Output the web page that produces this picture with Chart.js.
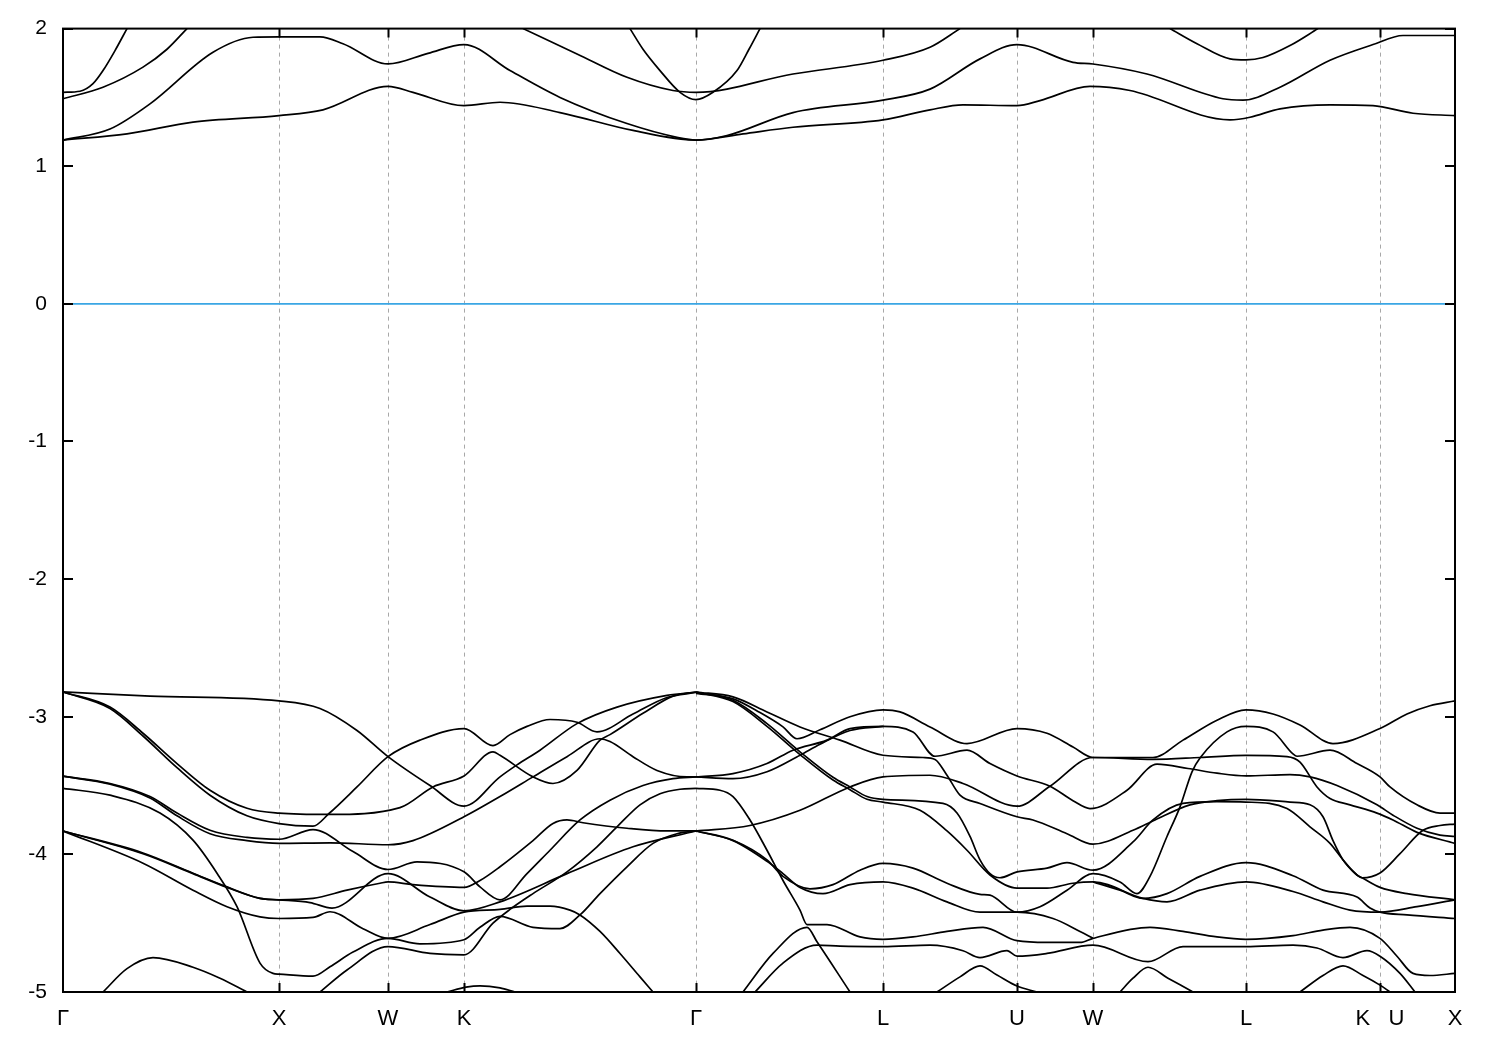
<!DOCTYPE html>
<html>
<head>
<meta charset="utf-8">
<script src="https://cdn.jsdelivr.net/npm/chart.js@4.4.0/dist/chart.umd.min.js"></script>
<style>
  html, body { margin: 0; padding: 0; background: #fff; }
  canvas { display: block; }
</style>
</head>
<body>
<canvas id="bands" width="1500" height="1050"></canvas>
<script>
// k-path positions of the high-symmetry points and their labels
const kTicks = [0, 2.16, 3.25, 4.01, 6.33, 8.20, 9.54, 10.30, 11.83, 13.17, 13.92];
const kLabels = ['Γ', 'X', 'W', 'K', 'Γ', 'L', 'U', 'W', 'L', 'K   U', 'X'];
const energyTicks = [-5, -4, -3, -2, -1, 0, 1, 2];

// conduction bands [k, E]
const cond1 = [[0,1.19],[0.64,1.235],[1.30,1.32],[2.16,1.368],[2.60,1.41],[3.25,1.58],[3.50,1.537],[4.01,1.44],[4.37,1.465],[4.97,1.39],[5.70,1.26],[6.33,1.19],[6.80,1.235],[7.30,1.283],[8.20,1.337],[8.67,1.41],[9.00,1.446],[9.54,1.44],[9.77,1.477],[10.27,1.58],[10.67,1.55],[11.67,1.337],[11.87,1.356],[12.17,1.417],[12.67,1.446],[13.10,1.44],[13.50,1.385],[13.92,1.368]];
const cond2 = [[0,1.19],[0.47,1.27],[0.87,1.453],[1.50,1.828],[1.90,1.937],[2.16,1.94],[2.57,1.94],[2.80,1.89],[3.25,1.743],[3.65,1.82],[4.01,1.884],[4.47,1.695],[4.97,1.50],[5.64,1.31],[6.14,1.21],[6.33,1.19],[6.64,1.223],[7.30,1.39],[8.20,1.48],[8.67,1.56],[9.17,1.78],[9.54,1.884],[10.10,1.755],[10.30,1.743],[10.84,1.67],[11.60,1.49],[11.80,1.48],[12.17,1.574],[12.67,1.77],[13.10,1.884],[13.40,1.95],[13.92,1.95]];
const cond3 = [[0,1.537],[0.17,1.545],[0.30,1.60],[0.40,1.695],[0.52,1.84],[0.64,2.0]];
const cond4 = [[0,1.49],[0.40,1.574],[0.80,1.72],[1.04,1.85],[1.24,2.0]];
const cond5 = [[4.60,2.0],[5.14,1.816],[5.64,1.646],[6.10,1.55],[6.33,1.537],[7.30,1.67],[8.20,1.77],[8.67,1.865],[8.97,2.0]];
const cond6 = [[5.67,2.0],[5.80,1.85],[5.97,1.695],[6.17,1.537],[6.33,1.484],[6.50,1.537],[6.74,1.695],[6.86,1.85],[6.97,2.0]];
const cond7 = [[11.07,2.0],[11.34,1.89],[11.67,1.78],[11.83,1.773],[12.00,1.79],[12.27,1.877],[12.55,2.0]];

// valence bands [k, E]
const val1 = [[0,-2.82],[0.87,-2.85],[2.16,-2.885],[2.57,-2.94],[2.94,-3.10],[3.25,-3.29],[3.67,-3.50],[4.01,-3.65],[4.37,-3.437],[4.54,-3.35],[4.77,-3.243],[5.14,-3.05],[5.54,-2.93],[6.04,-2.845],[6.33,-2.82]];
const val2 = [[0,-2.82],[0.47,-2.93],[0.80,-3.12],[1.14,-3.34],[1.47,-3.534],[1.84,-3.665],[2.16,-3.70],[2.66,-3.71],[3.37,-3.66],[3.70,-3.51],[4.01,-3.43],[4.30,-3.255],[4.37,-3.28],[4.70,-3.437],[4.90,-3.485],[5.14,-3.39],[5.37,-3.17],[5.47,-3.13],[5.80,-2.975],[6.10,-2.85],[6.33,-2.82]];
const val3 = [[0,-2.82],[0.47,-2.94],[0.80,-3.14],[1.14,-3.37],[1.47,-3.57],[1.84,-3.72],[2.16,-3.776],[2.50,-3.795],[2.66,-3.703],[2.94,-3.51],[3.25,-3.29],[3.57,-3.17],[4.01,-3.086],[4.30,-3.21],[4.47,-3.13],[4.64,-3.07],[4.87,-3.02],[5.14,-3.04],[5.34,-3.11],[5.70,-2.98],[6.04,-2.86],[6.33,-2.824]];
const val4 = [[0,-3.432],[0.47,-3.485],[0.87,-3.58],[1.14,-3.70],[1.47,-3.825],[1.84,-3.877],[2.16,-3.89],[2.50,-3.82],[2.90,-3.98],[3.25,-4.11],[3.54,-4.055],[4.01,-4.127],[4.17,-4.236],[4.37,-4.33],[4.64,-4.14],[4.87,-3.97],[5.17,-3.75],[5.47,-3.606],[5.80,-3.50],[6.10,-3.45],[6.33,-3.437]];
const val5 = [[0,-3.432],[0.47,-3.49],[0.87,-3.59],[1.14,-3.72],[1.47,-3.85],[1.84,-3.90],[2.16,-3.92],[2.67,-3.916],[3.25,-3.93],[3.50,-3.90],[4.01,-3.727],[4.37,-3.58],[4.70,-3.437],[5.04,-3.29],[5.37,-3.16],[5.47,-3.18],[5.70,-3.29],[5.94,-3.39],[6.24,-3.437],[6.33,-3.437]];
const val6 = [[0,-3.52],[0.47,-3.57],[0.97,-3.70],[1.30,-3.897],[1.54,-4.137],[1.74,-4.38],[1.97,-4.79],[2.10,-4.865],[2.16,-4.87],[2.50,-4.885],[2.67,-4.817],[2.90,-4.71],[3.25,-4.61],[3.57,-4.65],[4.01,-4.62],[4.17,-4.53],[4.37,-4.45],[4.70,-4.53],[4.97,-4.54],[5.17,-4.44],[5.37,-4.285],[5.64,-4.09],[5.90,-3.92],[6.14,-3.85],[6.33,-3.83]];
const val7 = [[0,-3.83],[0.80,-3.99],[1.30,-4.137],[1.64,-4.236],[1.97,-4.32],[2.16,-4.33],[2.50,-4.32],[2.84,-4.26],[3.17,-4.21],[3.25,-4.20],[3.50,-4.22],[4.01,-4.24],[4.17,-4.19],[4.37,-4.09],[4.70,-3.90],[4.90,-3.776],[5.04,-3.75],[5.20,-3.77],[5.64,-3.81],[6.04,-3.83],[6.33,-3.83]];
const val8 = [[0,-3.83],[0.80,-3.995],[1.30,-4.14],[1.64,-4.24],[1.97,-4.32],[2.16,-4.33],[2.47,-4.35],[2.69,-4.39],[3.25,-4.14],[3.67,-4.31],[4.01,-4.41],[4.37,-4.345],[5.04,-4.14],[5.70,-3.945],[6.33,-3.83]];
const val9 = [[0,-3.83],[0.80,-4.064],[1.30,-4.26],[1.64,-4.38],[1.97,-4.454],[2.16,-4.466],[2.50,-4.458],[2.67,-4.417],[3.00,-4.54],[3.25,-4.61],[3.67,-4.51],[4.01,-4.42],[4.37,-4.40],[4.64,-4.376],[4.87,-4.376],[5.07,-4.405],[5.17,-4.44],[5.37,-4.56],[5.57,-4.72],[5.77,-4.89],[5.90,-5.0]];
const val10 = [[0.40,-5.0],[0.64,-4.83],[0.90,-4.75],[1.30,-4.82],[1.57,-4.90],[1.84,-5.0]];
const val11 = [[2.57,-5.0],[2.84,-4.84],[3.25,-4.67],[3.67,-4.72],[4.01,-4.73],[4.30,-4.50],[4.47,-4.40],[4.70,-4.285],[5.04,-4.127],[5.34,-3.945],[5.54,-3.80],[5.77,-3.64],[5.97,-3.56],[6.17,-3.527],[6.33,-3.52]];
const val12 = [[3.84,-5.0],[4.03,-4.965],[4.17,-4.955],[4.37,-4.97],[4.52,-5.0]];
const val13 = [[6.33,-2.82],[6.70,-2.856],[7.04,-2.965],[7.37,-3.074],[7.77,-3.17],[8.20,-3.28],[8.60,-3.296],[8.72,-3.31],[8.84,-3.425],[8.97,-3.57],[9.17,-3.63],[9.54,-3.727],[9.70,-3.75],[10.04,-3.85],[10.30,-3.926],[10.70,-3.825],[10.92,-3.75],[11.27,-3.64],[11.54,-3.61],[11.83,-3.60],[12.27,-3.62],[12.47,-3.64],[12.60,-3.727],[12.70,-3.90],[12.80,-4.04],[12.94,-4.15],[12.99,-4.17],[13.17,-4.135],[13.37,-3.995],[13.60,-3.825],[13.77,-3.79],[13.92,-3.78]];
const val14 = [[6.33,-2.83],[6.70,-2.87],[6.97,-2.97],[7.20,-3.074],[7.34,-3.16],[7.57,-3.095],[7.87,-3.00],[8.20,-2.95],[8.37,-2.965],[8.67,-3.074],[9.04,-3.195],[9.54,-3.086],[9.84,-3.12],[10.10,-3.22],[10.30,-3.296],[10.90,-3.296],[11.20,-3.17],[11.54,-3.025],[11.83,-2.95],[12.10,-2.98],[12.37,-3.06],[12.70,-3.195],[13.17,-3.086],[13.44,-2.98],[13.67,-2.92],[13.92,-2.885]];
const val15 = [[6.33,-2.82],[6.70,-2.88],[7.04,-3.05],[7.37,-3.255],[7.70,-3.44],[7.87,-3.51],[8.04,-3.58],[8.20,-3.60],[8.80,-3.63],[8.94,-3.70],[9.07,-3.87],[9.17,-4.04],[9.27,-4.14],[9.37,-4.17],[9.54,-4.127],[9.84,-4.10],[10.04,-4.06],[10.30,-4.115],[10.70,-3.91],[10.90,-3.75],[11.20,-3.63],[11.54,-3.617],[11.83,-3.62],[12.24,-3.667],[12.47,-3.80],[12.67,-3.92],[12.80,-4.04],[12.94,-4.15],[12.99,-4.17],[13.17,-4.24],[13.44,-4.285],[13.92,-4.33]];
const val16 = [[6.33,-2.82],[6.70,-2.89],[7.04,-3.07],[7.37,-3.275],[7.70,-3.46],[7.87,-3.53],[8.04,-3.60],[8.20,-3.62],[8.57,-3.68],[8.84,-3.83],[9.04,-3.97],[9.27,-4.15],[9.54,-4.245],[9.84,-4.245],[10.10,-4.21],[10.30,-4.20],[10.80,-4.32],[11.04,-4.345],[11.37,-4.26],[11.83,-4.20],[12.30,-4.27],[12.60,-4.345],[12.87,-4.405],[13.17,-4.42],[13.54,-4.38],[13.92,-4.33]];
const val17 = [[6.33,-3.437],[6.70,-3.413],[7.04,-3.34],[7.30,-3.243],[7.64,-3.17],[7.87,-3.086],[8.20,-3.07],[8.50,-3.11],[8.72,-3.287],[9.04,-3.243],[9.27,-3.34],[9.54,-3.43],[9.87,-3.505],[10.10,-3.61],[10.27,-3.667],[10.64,-3.534],[10.94,-3.345],[11.25,-3.376],[11.54,-3.41],[11.83,-3.43],[12.27,-3.42],[12.47,-3.437],[12.74,-3.50],[13.14,-3.64],[13.30,-3.715],[13.54,-3.81],[13.77,-3.86],[13.92,-3.87]];
const val18 = [[6.33,-3.437],[6.70,-3.45],[7.04,-3.40],[7.37,-3.28],[7.57,-3.20],[7.87,-3.10],[8.20,-3.07]];
const val19 = [[6.33,-3.83],[6.87,-3.79],[7.37,-3.68],[7.87,-3.51],[8.20,-3.437],[8.67,-3.425],[9.00,-3.485],[9.54,-3.65],[9.87,-3.505],[10.30,-3.296],[10.90,-3.31],[11.37,-3.296],[11.83,-3.28],[12.24,-3.29],[12.37,-3.33],[12.54,-3.51],[12.67,-3.594],[12.87,-3.64],[13.14,-3.70],[13.30,-3.75],[13.54,-3.84],[13.92,-3.92]];
const val20 = [[6.33,-3.52],[6.57,-3.534],[6.70,-3.58],[6.87,-3.75],[7.04,-3.97],[7.20,-4.19],[7.37,-4.405],[7.44,-4.51],[7.64,-4.51],[7.97,-4.60],[8.20,-4.617],[8.50,-4.60],[8.84,-4.56],[9.20,-4.53],[9.54,-4.627],[9.84,-4.64],[10.17,-4.64],[10.30,-4.61],[10.87,-4.53],[11.20,-4.56],[11.54,-4.60],[11.83,-4.617],[12.30,-4.59],[12.60,-4.55],[12.87,-4.53],[13.17,-4.61],[13.34,-4.74],[13.50,-4.865],[13.67,-4.88],[13.92,-4.865]];
const val21 = [[6.80,-5.0],[7.10,-4.72],[7.44,-4.53],[7.54,-4.635],[7.87,-5.0]];
const val22 = [[6.92,-5.0],[7.20,-4.79],[7.54,-4.66],[7.77,-4.667],[8.20,-4.67],[8.67,-4.66],[9.00,-4.70],[9.17,-4.75],[9.44,-4.70],[9.54,-4.74],[9.84,-4.72],[10.30,-4.66],[10.85,-4.78],[11.20,-4.67],[11.83,-4.67],[12.30,-4.66],[12.54,-4.68],[12.80,-4.75],[13.04,-4.70],[13.17,-4.74],[13.37,-4.865],[13.52,-5.0]];
const val23 = [[6.33,-3.83],[6.70,-3.897],[7.04,-4.04],[7.20,-4.16],[7.47,-4.25],[7.70,-4.22],[7.97,-4.115],[8.20,-4.066],[8.50,-4.10],[8.84,-4.21],[9.17,-4.29],[9.27,-4.296],[9.54,-4.42],[9.77,-4.38],[10.04,-4.26],[10.30,-4.14],[10.57,-4.20],[10.74,-4.285],[10.87,-4.16],[11.04,-3.87],[11.17,-3.655],[11.29,-3.40],[11.37,-3.30],[11.64,-3.11],[11.83,-3.07],[12.10,-3.11],[12.30,-3.27],[12.34,-3.287],[12.67,-3.243],[12.94,-3.34],[13.17,-3.437],[13.27,-3.51],[13.54,-3.64],[13.77,-3.70],[13.92,-3.70]];
const val24 = [[6.33,-3.83],[6.70,-3.90],[7.04,-4.05],[7.20,-4.14],[7.37,-4.24],[7.60,-4.285],[7.87,-4.22],[8.20,-4.20],[8.50,-4.245],[8.84,-4.345],[9.17,-4.42],[9.54,-4.42],[9.90,-4.466],[10.17,-4.56],[10.30,-4.61]];
const val25 = [[10.30,-4.20],[10.57,-4.26],[10.80,-4.32],[11.04,-4.285],[11.37,-4.16],[11.83,-4.06],[12.30,-4.155],[12.60,-4.26],[12.94,-4.31],[13.07,-4.39],[13.17,-4.42],[13.44,-4.44],[13.92,-4.466]];
const val26 = [[8.74,-5.0],[8.97,-4.89],[9.17,-4.81],[9.34,-4.877],[9.54,-4.957],[9.74,-5.0]];
const val27 = [[10.57,-5.0],[10.70,-4.90],[10.85,-4.82],[11.05,-4.90],[11.30,-5.0]];
const val28 = [[12.37,-5.0],[12.60,-4.88],[12.80,-4.81],[13.00,-4.88],[13.17,-4.95],[13.27,-5.0]];

// Fermi level
const fermiLine = [[0, 0], [13.92, 0]];

const bands = [cond1, cond2, cond3, cond4, cond5, cond6, cond7,
  val1, val2, val3, val4, val5, val6, val7, val8, val9, val10, val11, val12, val13, val14,
  val15, val16, val17, val18, val19, val20, val21, val22, val23, val24, val25, val26, val27, val28];

const FONT = '"Liberation Sans", Arial, sans-serif';

const toXY = arr => arr.map(([x, y]) => ({ x, y }));

const datasets = bands.map(b => ({
    data: toXY(b),
    showLine: true,
    borderColor: '#000',
    borderWidth: 1.7,
    pointRadius: 0,
    fill: false,
    cubicInterpolationMode: 'monotone'
}));
datasets.unshift({
    data: toXY(fermiLine),
    showLine: true,
    borderColor: '#3aa6e4',
    borderWidth: 1.7,
    pointRadius: 0,
    fill: false
});

// grid lines, frame and inward tick marks
const framePlugin = {
    id: 'frame',
    beforeDatasetsDraw(chart) {
        const { ctx, chartArea: a, scales: { x } } = chart;
        ctx.save();
        ctx.strokeStyle = '#a8a8a8';
        ctx.lineWidth = 1;
        ctx.setLineDash([4, 4]);
        kTicks.slice(1, -1).forEach(v => {
            const px = Math.round(x.getPixelForValue(v)) + 0.5;
            ctx.beginPath();
            ctx.moveTo(px, a.top);
            ctx.lineTo(px, a.bottom);
            ctx.stroke();
        });
        ctx.restore();
    },
    afterDatasetsDraw(chart) {
        const { ctx, chartArea: a, scales: { x, y } } = chart;
        ctx.save();
        ctx.strokeStyle = '#000';
        ctx.lineWidth = 2;
        ctx.setLineDash([]);
        kTicks.slice(1, -1).forEach(v => {
            const px = Math.round(x.getPixelForValue(v)) + 0.5;
            ctx.beginPath();
            ctx.moveTo(px, a.top); ctx.lineTo(px, a.top + 9);
            ctx.moveTo(px, a.bottom); ctx.lineTo(px, a.bottom - 9);
            ctx.stroke();
        });
        energyTicks.forEach(v => {
            const py = Math.round(y.getPixelForValue(v));
            ctx.beginPath();
            ctx.moveTo(a.left, py); ctx.lineTo(a.left + 10, py);
            ctx.moveTo(a.right, py); ctx.lineTo(a.right - 10, py);
            ctx.stroke();
        });
        ctx.strokeRect(a.left, a.top, a.right - a.left, a.bottom - a.top);
        ctx.restore();
    }
};

const hidden = (pos, size) => ({
    type: 'linear',
    position: pos,
    display: true,
    grid: { display: false, drawTicks: false },
    border: { display: false },
    ticks: { display: false },
    afterFit: s => { if (pos === 'top') s.height = size; else s.width = size; }
});

new Chart(document.getElementById('bands'), {
    type: 'scatter',
    data: { datasets },
    options: {
        responsive: false,
        animation: false,
        devicePixelRatio: 1,
        layout: { padding: 0 },
        plugins: { legend: { display: false }, tooltip: { enabled: false } },
        scales: {
            x: {
                type: 'linear',
                position: 'bottom',
                min: 0,
                max: 13.92,
                grid: { display: false, drawTicks: false },
                border: { display: false },
                afterBuildTicks: axis => { axis.ticks = kTicks.map(v => ({ value: v })); },
                ticks: {
                    autoSkip: false,
                    maxRotation: 0,
                    padding: 14,
                    color: '#000',
                    font: { family: FONT, size: 22 },
                    callback: (v, i) => kLabels[i]
                },
                afterFit: s => { s.height = 58; }
            },
            y: {
                type: 'linear',
                position: 'left',
                min: -5,
                max: 2,
                grid: { display: false, drawTicks: false },
                border: { display: false },
                afterBuildTicks: axis => { axis.ticks = energyTicks.map(v => ({ value: v })); },
                ticks: {
                    padding: 16,
                    color: '#000',
                    font: { family: FONT, size: 21 },
                    callback: v => String(v)
                },
                afterFit: s => { s.width = 63; }
            },
            x2: Object.assign(hidden('top', 28), { axis: 'x' }),
            y2: Object.assign(hidden('right', 45), { axis: 'y' })
        }
    },
    plugins: [framePlugin]
});
</script>
</body>
</html>
